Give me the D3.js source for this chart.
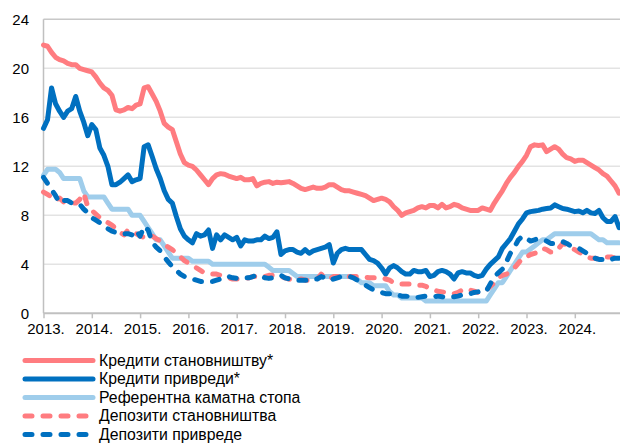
<!DOCTYPE html>
<html>
<head>
<meta charset="utf-8">
<script src="https://cdn.jsdelivr.net/npm/d3@7"></script>
<style>
  body { margin: 0; background: #fff; }
  svg text { font-family: "Liberation Sans", Arial, sans-serif; fill: #000; }
</style>
</head>
<body>
<div id="chart"></div>
<script>
// monthly, Jan 2013 - Dec 2024
var startYear = 2013;
var yearLabels = ["2013.", "2014.", "2015.", "2016.", "2017.", "2018.", "2019.", "2020.", "2021.", "2022.", "2023.", "2024."];
var yTicks = [0, 4, 8, 12, 16, 20, 24];

var seriesNames = ["Кредити становништву*", "Кредити привреди*", "Референтна каматна стопа", "Депозити становништва", "Депозити привреде"];

var loansHouseholds = [
  21.9, 21.8, 21.3, 20.9, 20.7, 20.6, 20.4, 20.3, 20.3, 20.0, 19.9, 19.8,
  19.7, 19.3, 18.8, 18.4, 18.2, 17.8, 16.6, 16.5, 16.6, 16.8, 16.7, 17.0,
  17.1, 18.4, 18.5, 17.9, 17.3, 16.5, 15.5, 15.2, 15.0, 14.0, 13.0, 12.3,
  12.1, 12.0, 11.7, 11.3, 10.9, 10.5, 11.0, 11.3, 11.4, 11.35, 11.2, 11.1,
  11.0, 11.1, 10.9, 10.9, 11.0, 10.4, 10.6, 10.7, 10.75, 10.6, 10.7, 10.65,
  10.7, 10.75, 10.6, 10.4, 10.2, 10.1, 10.2, 10.3, 10.2, 10.2, 10.3, 10.5,
  10.5, 10.3, 10.1, 10.0, 10.0, 9.9, 9.8, 9.7, 9.6, 9.4, 9.2, 9.3,
  9.4, 9.3, 9.1, 8.7, 8.4, 8.0, 8.2, 8.3, 8.4, 8.6, 8.7, 8.6,
  8.8, 8.8, 8.6, 8.9, 8.6, 8.7, 8.9, 8.8, 8.6, 8.5, 8.4, 8.4,
  8.4, 8.6, 8.5, 8.4, 9.0, 9.5, 10.0, 10.6, 11.1, 11.5, 12.0, 12.4,
  12.9, 13.6, 13.75, 13.7, 13.75, 13.2, 13.4, 13.6, 13.4, 13.0, 12.7, 12.6,
  12.4, 12.5, 12.5, 12.3, 12.1, 11.9, 11.7, 11.4, 11.2, 10.8, 10.4, 9.8
];
var loansCompanies = [
  15.1, 15.8, 18.4, 17.1, 16.5, 16.0, 16.5, 16.7, 17.7, 16.5, 15.6, 14.5,
  15.4, 15.0, 13.5, 12.9, 12.0, 10.5, 10.5, 10.7, 11.0, 11.3, 10.75, 10.9,
  11.0, 13.6, 13.75, 12.8, 11.8, 11.0, 10.0, 9.3, 9.0, 7.9, 6.9, 6.3,
  6.0, 5.75, 6.5, 6.3, 6.4, 6.8, 5.3, 6.4, 6.0, 6.4, 6.2, 6.0,
  6.2, 5.5, 6.0, 5.9, 5.9, 6.0, 6.0, 6.3, 6.1, 6.2, 6.65, 4.8,
  5.1, 5.2, 5.2, 5.0, 4.9, 5.2, 4.9, 5.1, 5.2, 5.3, 5.4, 5.6,
  4.1, 4.9, 5.2, 5.3, 5.2, 5.2, 5.2, 5.2, 4.8, 4.4, 4.3, 4.1,
  3.7, 3.2, 3.7, 3.9, 3.7, 3.4, 3.2, 3.2, 3.5, 3.4, 3.4, 3.5,
  3.0, 3.1, 3.4, 3.5, 3.4, 3.2, 2.8, 3.3, 3.4, 3.3, 3.3, 3.1,
  3.0, 3.1, 3.6, 4.0, 4.3, 4.6, 5.3, 5.7, 6.1, 6.7, 7.3, 7.7,
  8.2, 8.3, 8.35, 8.4, 8.5, 8.55, 8.6, 8.85, 8.7, 8.55, 8.5, 8.4,
  8.3, 8.35, 8.2, 8.4, 8.2, 8.15, 8.4, 7.8, 7.5, 7.5, 7.9, 7.0
];
var refRate = [
  11.25, 11.75, 11.75, 11.75, 11.5, 11.0, 11.0, 11.0, 11.0, 11.0, 10.0, 9.5,
  9.5, 9.5, 9.5, 9.5, 9.0, 8.5, 8.5, 8.5, 8.5, 8.5, 8.0, 8.0,
  8.0, 7.5, 7.0, 6.5, 6.0, 6.0, 5.5, 5.0, 4.5, 4.5, 4.5, 4.5,
  4.5, 4.25, 4.25, 4.25, 4.25, 4.25, 4.0, 4.0, 4.0, 4.0, 4.0, 4.0,
  4.0, 4.0, 4.0, 4.0, 4.0, 4.0, 4.0, 4.0, 3.75, 3.5, 3.5, 3.5,
  3.5, 3.5, 3.25, 3.0, 3.0, 3.0, 3.0, 3.0, 3.0, 3.0, 3.0, 3.0,
  3.0, 3.0, 3.0, 3.0, 3.0, 3.0, 2.75, 2.5, 2.5, 2.5, 2.25, 2.25,
  2.25, 2.25, 1.75, 1.5, 1.5, 1.25, 1.25, 1.25, 1.25, 1.25, 1.25, 1.0,
  1.0, 1.0, 1.0, 1.0, 1.0, 1.0, 1.0, 1.0, 1.0, 1.0, 1.0, 1.0,
  1.0, 1.0, 1.0, 1.5, 2.0, 2.5, 2.5, 3.0, 3.5, 4.0, 4.5, 5.0,
  5.0, 5.25, 5.5, 5.75, 6.0, 6.0, 6.25, 6.5, 6.5, 6.5, 6.5, 6.5,
  6.5, 6.5, 6.5, 6.5, 6.5, 6.25, 6.0, 6.0, 5.75, 5.75, 5.75, 5.75
];
var depositsHouseholds = [
  9.9, 9.7, 9.5, 9.2, 9.4, 9.1, 9.0, 9.0, 9.0, 9.3, 9.8, 8.7,
  8.4, 8.1, 7.8, 7.6, 7.4, 7.2, 6.9, 6.6, 6.4, 6.8, 6.6, 6.5,
  6.3, 6.2, 6.4, 6.3, 6.1, 5.9, 5.6, 5.4, 5.2, 4.9, 4.6, 4.3,
  4.1, 3.9, 3.7, 3.5, 3.3, 3.3, 3.2, 3.2, 3.1, 3.0, 2.9, 2.8,
  2.8, 2.8, 2.8, 2.9, 3.0, 3.0, 2.9, 3.0, 3.1, 3.1, 3.1, 3.0,
  2.9, 2.8, 2.7, 2.7, 2.8, 2.7, 2.7, 2.7, 2.8, 3.2, 2.9, 2.8,
  3.0, 3.0, 3.0, 3.0, 3.0, 3.0, 3.0, 3.0, 2.95, 2.9, 2.9, 2.9,
  2.9, 2.8, 2.7, 2.5, 2.45, 2.4, 2.4, 2.4, 2.3, 2.3, 2.3, 2.2,
  2.0, 1.9, 1.8, 1.75, 1.7, 1.7, 1.6, 1.7, 1.9, 2.0, 1.9, 1.8,
  1.7, 1.7, 1.9, 2.2, 2.5, 2.9, 3.1, 3.2, 3.4, 3.7, 4.1, 4.5,
  4.6, 4.8, 4.9, 5.0, 5.3, 5.2, 5.0, 5.0, 5.3, 5.7, 5.6, 5.3,
  5.2, 5.0, 4.8, 4.6, 4.5, 4.5, 4.4, 4.5, 4.6, 4.6, 4.5, 4.5
];
var depositsCompanies = [
  11.1, 10.6, 10.1, 9.6, 9.0, 9.2, 9.2, 9.0, 9.0, 8.9, 8.5, 8.2,
  7.8, 7.6, 7.4, 7.2, 6.9, 6.7, 6.6, 6.5, 6.5, 6.5, 6.4, 6.8,
  6.3, 7.1, 6.8, 5.8, 5.4, 5.1, 4.6, 4.2, 3.8, 3.5, 3.2, 3.0,
  2.9, 2.8, 2.7, 2.6, 2.6, 2.6, 2.6, 2.7, 2.8, 3.0, 3.0, 2.9,
  2.85, 2.85, 2.9, 2.9, 3.0, 3.1, 3.0, 2.9, 2.85, 2.9, 3.0, 3.1,
  2.9, 2.8, 2.7, 2.7, 2.7, 2.7, 2.7, 2.8, 2.8, 3.0, 2.9, 2.7,
  2.8, 2.9, 3.0, 3.0, 3.0, 2.9, 2.7, 2.5, 2.3, 2.1, 1.9, 1.8,
  1.7, 1.6, 1.6, 1.6, 1.5, 1.4, 1.4, 1.35, 1.35, 1.3, 1.35, 1.4,
  1.35, 1.35, 1.4, 1.35, 1.3, 1.35, 1.35, 1.4, 1.5, 1.6, 1.6, 1.7,
  1.75, 1.7, 1.8, 2.4, 3.0, 3.3, 3.6, 4.2, 4.9, 5.4, 6.0, 6.3,
  6.1, 5.9, 6.0, 6.1, 6.0, 5.9, 5.7, 5.7, 5.8, 5.85, 5.7, 5.5,
  5.4, 5.3, 5.1, 4.9, 4.7, 4.5, 4.4, 4.4, 4.3, 4.4, 4.5, 4.5
];

var series = [
  {name: seriesNames[0], values: loansHouseholds, color: "#ff7c80", width: 5, dash: null},
  {name: seriesNames[1], values: loansCompanies, color: "#0070c0", width: 5, dash: null},
  {name: seriesNames[2], values: refRate, color: "#9fcdeb", width: 5, dash: null},
  {name: seriesNames[3], values: depositsHouseholds, color: "#ff7c80", width: 5, dash: "7,11"},
  {name: seriesNames[4], values: depositsCompanies, color: "#0070c0", width: 5, dash: "7,11"}
];

var width = 620, height = 443;
var svg = d3.select("#chart").append("svg").attr("width", width).attr("height", height);

var x = d3.scaleLinear().domain([startYear, startYear + 12]).range([43.5, 623.1]);
var y = d3.scaleLinear().domain([0, 24]).range([313.3, 19.3]);

// gridlines
svg.append("g").selectAll("line")
  .data(yTicks.filter(function(d) { return d > 0; }))
  .enter().append("line")
    .attr("x1", x(startYear)).attr("x2", width)
    .attr("y1", function(d) { return y(d); }).attr("y2", function(d) { return y(d); })
    .attr("stroke", function(d) { return d === 24 ? "#c8c8c8" : "#e3e3e3"; })
    .attr("stroke-width", 1.5);

// y axis line + labels
svg.append("line")
  .attr("x1", x(startYear)).attr("x2", x(startYear))
  .attr("y1", y(24)).attr("y2", y(0))
  .attr("stroke", "#c0c0c0").attr("stroke-width", 1.5);

svg.append("g").selectAll("text")
  .data(yTicks)
  .enter().append("text")
    .attr("x", 29)
    .attr("y", function(d) { return y(d); })
    .attr("dy", "0.36em")
    .attr("text-anchor", "end")
    .style("font-size", "15px")
    .text(function(d) { return d; });

// x axis
var xAxis = svg.append("g")
  .attr("transform", "translate(0," + y(0) + ")")
  .call(d3.axisBottom(x)
    .tickValues(d3.range(startYear, startYear + 12))
    .tickSize(5)
    .tickFormat(function(d, i) { return yearLabels[i]; }));
xAxis.select(".domain").attr("stroke", "#c0c0c0").attr("stroke-width", 2)
  .attr("d", "M" + x(startYear) + ",0H" + width);
xAxis.selectAll(".tick line").attr("stroke", "#c0c0c0").attr("stroke-width", 1.5);
xAxis.selectAll(".tick text")
  .attr("y", 10)
  .attr("dx", "2px")
  .style("font-size", "15px")
  .style("font-family", "Liberation Sans, Arial, sans-serif");

// lines
var line = d3.line()
  .x(function(d, i) { return x(startYear + i / 12); })
  .y(function(d) { return y(d); });

svg.append("g").selectAll("path")
  .data(series)
  .enter().append("path")
    .attr("d", function(d) { return line(d.values); })
    .attr("fill", "none")
    .attr("stroke", function(d) { return d.color; })
    .attr("stroke-width", function(d) { return d.width; })
    .attr("stroke-dasharray", function(d) { return d.dash; })
    .attr("stroke-linecap", "round")
    .attr("stroke-linejoin", "round");

// legend
var legend = svg.append("g").selectAll("g")
  .data(series)
  .enter().append("g")
    .attr("transform", function(d, i) { return "translate(0," + (360.5 + i * 18.5) + ")"; });

legend.append("line")
  .attr("x1", 25).attr("x2", 93)
  .attr("stroke", function(d) { return d.color; })
  .attr("stroke-width", 5)
  .attr("stroke-dasharray", function(d) { return d.dash; })
  .attr("stroke-linecap", "round");

legend.append("text")
  .attr("x", 99)
  .attr("dy", "0.33em")
  .style("font-size", "15.8px")
  .text(function(d) { return d.name; });
</script>
</body>
</html>
